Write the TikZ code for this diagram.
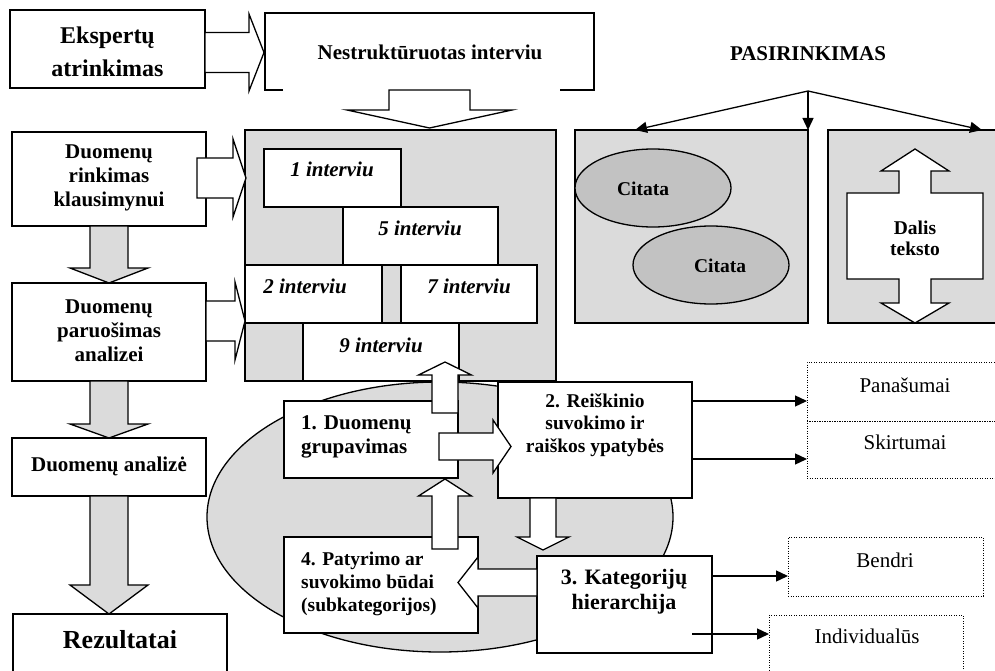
\documentclass[tikz,border=0pt]{standalone}
\usepackage{fontspec}
\setmainfont{Liberation Serif}
\usetikzlibrary{arrows.meta,shapes.geometric,calc}
\definecolor{panel}{gray}{0.86}
\definecolor{quotefill}{gray}{0.76}
% rectangle node given by its corners: name, style, x1, y1, x2, y2
\newcommand{\rbox}[6]{\node[#2, minimum width={#5-#3}, minimum height={#6-#4}] (#1) at ({(#3+#5)/2},{(#4+#6)/2}) {};}
% horizontal block arrow: style, tail x, head-base x, tip x, centre y, shaft half, head half
\newcommand{\harrow}[7]{\draw[#1] (#2,{#5-#6}) -- (#3,{#5-#6}) -- (#3,{#5-#7}) -- (#4,#5) -- (#3,{#5+#7}) -- (#3,{#5+#6}) -- (#2,{#5+#6}) -- cycle;}
% vertical block arrow: style, tail y, head-base y, tip y, centre x, shaft half, head half
\newcommand{\varrow}[7]{\draw[#1] ({#5-#6},#2) -- ({#5-#6},#3) -- ({#5-#7},#3) -- (#5,#4) -- ({#5+#7},#3) -- ({#5+#6},#3) -- ({#5+#6},#2) -- cycle;}
\begin{document}
\begin{tikzpicture}[x=1pt,y=-1pt,
  box/.style={draw, line width=1.3pt, fill=white, inner sep=0pt, outer sep=0pt},
  plain/.style={fill=white, inner sep=0pt, outer sep=0pt},
  panelbox/.style={box, fill=panel},
  dotbox/.style={draw, line width=0.9pt, dash pattern=on 0.9pt off 1.6pt, inner sep=0pt, outer sep=0pt},
  blk/.style={draw, line width=1.3pt, fill=white, line join=miter},
  gblk/.style={blk, fill=panel},
  link/.style={line width=1.3pt, -{Triangle[length=12pt,width=11pt]}},
  lbl/.style={inner sep=0pt, align=center, font=\fontsize{21}{24}\selectfont\bfseries},
  itl/.style={inner sep=0pt, font=\fontsize{21}{24}\selectfont\bfseries\itshape},
  reg/.style={inner sep=0pt, font=\fontsize{21}{24}\selectfont}]
\useasboundingbox (0,0) rectangle (995,671);
\fill[white] (0,0) rectangle (995,671);

% interview panel
\rbox{panel}{panelbox}{245}{130}{556}{381}
\rbox{i1}{box}{264}{149}{401}{207}
\rbox{i5}{box}{343}{207}{498}{265}
\rbox{i2}{box}{245}{265}{382}{323}
\rbox{i7}{box}{401}{265}{537}{323}
\rbox{i9}{box}{303}{323}{459}{381}
\node[itl, anchor=base] (t1) at (332,177) {1 interviu};
\node[itl, anchor=base] (t5) at (420,235) {5 interviu};
\node[itl, anchor=base] (t2) at (305,293) {2 interviu};
\node[itl, anchor=base] (t7) at (469,293) {7 interviu};
\node[itl, anchor=base] (t9) at (381,352) {9 interviu};

% top row
\rbox{eks}{box}{10}{10}{205}{88}
\node[lbl, font=\fontsize{24}{33}\selectfont\bfseries] (eksT) at (107.5,52) {Ekspertų\\atrinkimas};
\rbox{nest}{plain}{265}{13}{594}{90}
\draw[line width=1.3pt] ($(nest.south west)+(18,0)$) -- (nest.south west) -- (nest.north west)
  -- (nest.north east) -- (nest.south east) -- ++(-34,0);
\node[lbl, anchor=base] (nestT) at (430,60) {Nestruktūruotas interviu};
\harrow{blk}{205}{249}{264}{52.5}{20}{38.5}
\varrow{blk}{90}{110}{128}{429.5}{40.5}{82.5}

% selection
\node[lbl, anchor=base] (pas) at (808,61) {PASIRINKIMAS};
\coordinate (fork) at (808,91);
\rbox{cit}{panelbox}{575}{130}{808}{323}
\rbox{dal}{panelbox}{828}{130}{1000}{323}
\draw[link] (fork) -- ($(cit.north west)+(60,0)$);
\draw[link] (fork) -- (cit.north east);
\draw[link] (fork) -- ($(dal.north west)+(154,0)$);
\node[draw, ellipse, fill=quotefill, line width=1.3pt, minimum width=156, minimum height=78, inner sep=0pt] (c1) at (653,188) {};
\node[draw, ellipse, fill=quotefill, line width=1.3pt, minimum width=156, minimum height=78, inner sep=0pt] (c2) at (711,265) {};
\node[lbl, font=\fontsize{19.5}{22}\selectfont\bfseries, anchor=base] (c1T) at (643,195) {Citata};
\node[lbl, font=\fontsize{19.5}{22}\selectfont\bfseries, anchor=base] (c2T) at (720,272) {Citata};
\draw[blk] (915,149) -- (949,171) -- (931,171) -- (931,193) -- (983,193) -- (983,279) -- (931,279)
  -- (931,303) -- (949,303) -- (915,323) -- (881,303) -- (899,303) -- (899,279) -- (847,279)
  -- (847,193) -- (899,193) -- (899,171) -- (881,171) -- cycle;
\node[lbl, font=\fontsize{19.5}{21}\selectfont\bfseries] (dalT) at (915,238) {Dalis\\teksto};

% analysis cycle
\node[draw, ellipse, fill=panel, line width=1.3pt, minimum width=466, minimum height=270, inner sep=0pt] (cyc) at (440,517) {};
\rbox{b1}{box}{284}{401}{458}{478}
\rbox{b2}{box}{498}{382}{692}{498}
\rbox{b3}{box}{537}{556}{712}{653}
\rbox{b4}{box}{284}{537}{478}{633}
\node[lbl, align=left, anchor=west] (b1T) at (301,437) {1. Duomenų\\grupavimas};
\node[lbl, font=\fontsize{19.5}{22.5}\selectfont\bfseries] (b2T) at (595,425) {2. Reiškinio\\suvokimo ir\\raiškos ypatybės};
\node[lbl, font=\fontsize{22}{25}\selectfont\bfseries] (b3T) at (624,592) {3. Kategorijų\\hierarchija};
\node[lbl, align=left, anchor=west, font=\fontsize{19.5}{23}\selectfont\bfseries] (b4T) at (301,584) {4. Patyrimo ar\\suvokimo būdai\\(subkategorijos)};
\varrow{blk}{413}{375}{362}{445}{13}{26.5}
\varrow{blk}{549}{496}{479}{445}{13}{26.5}
\harrow{blk}{439}{493}{511}{446.5}{13.5}{26.5}
\varrow{blk}{498}{537}{550}{543}{13}{26}
\harrow{blk}{537}{478}{458}{582.5}{13.5}{25.5}

% left column
\rbox{rink}{box}{12}{132}{206}{226}
\rbox{paru}{box}{12}{283}{206}{381}
\rbox{anal}{box}{12}{438}{206}{496}
\rbox{rez}{box}{13}{614}{227}{700}
\node[lbl] (rinkT) at (109,178) {Duomenų\\rinkimas\\klausimynui};
\node[lbl] (paruT) at (109,331) {Duomenų\\paruošimas\\analizei};
\node[lbl, anchor=base] (analT) at (109,471) {Duomenų analizė};
\node[lbl, font=\fontsize{26}{30}\selectfont\bfseries, anchor=base] (rezT) at (120,648) {Rezultatai};
\varrow{gblk}{226}{268}{283}{109}{19}{39}
\varrow{gblk}{381}{424}{438}{109}{19}{39}
\varrow{gblk}{496}{585}{614}{109}{19}{39}
\harrow{blk}{197}{233}{246}{178}{20}{39}
\harrow{blk}{206}{235}{245}{321}{20}{39}

% outcomes
\rbox{pan}{dotbox}{807}{362}{1000}{421}
\rbox{ski}{dotbox}{807}{421}{1000}{478}
\rbox{ben}{dotbox}{788}{537}{983}{596}
\rbox{ind}{dotbox}{769}{615}{963}{700}
\node[reg, anchor=base] (panT) at (905,392) {Panašumai};
\node[reg, anchor=base] (skiT) at (905,449) {Skirtumai};
\node[reg, anchor=base] (benT) at (885,567) {Bendri};
\node[reg, anchor=base] (indT) at (867,643) {Individualūs};
\draw[link] ($(b2.north east)+(0,19)$) -- ($(pan.north west)+(0,39)$);
\draw[link] ($(b2.south east)+(0,-39)$) -- ($(ski.north west)+(0,38)$);
\draw[link] ($(b3.north east)+(0,20)$) -- ($(ben.north west)+(0,39)$);
\draw[link] ($(b3.south east)+(-20,-19)$) -- ($(ind.north west)+(0,19)$);
\end{tikzpicture}
\end{document}
